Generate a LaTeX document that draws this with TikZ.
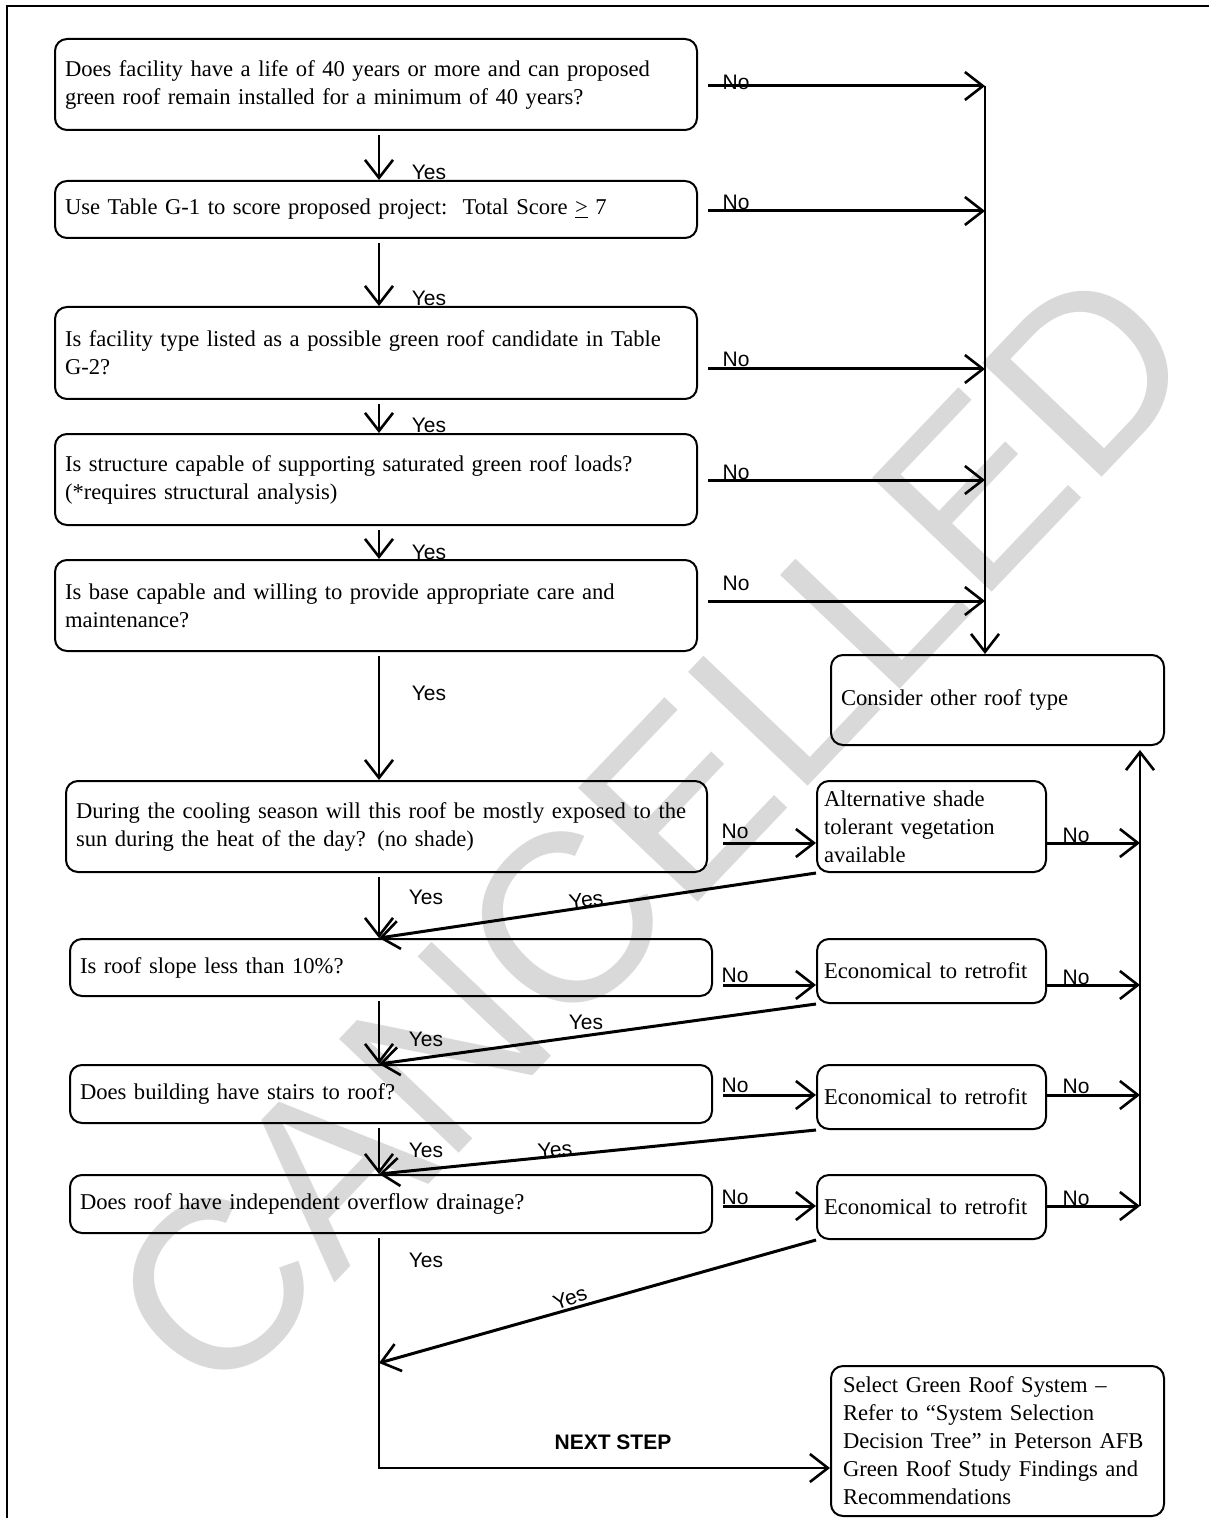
\documentclass[tikz,border=0pt]{standalone}
\usepackage{fontspec}
\setmainfont{Liberation Serif}
\setsansfont{Liberation Sans}
\usetikzlibrary{arrows.meta}
\usetikzlibrary{positioning}
\newcommand{\qfont}{\fontsize{11.3}{14}\selectfont}
\newcommand{\lblfont}{\sffamily\fontsize{10.5}{12}\selectfont}
\tikzset{qbox/.style = {draw, line width=1pt, rounded corners=6pt, anchor=north west, align=left, inner xsep=5pt, inner ysep=0pt, font=\qfont}}
\tikzset{lbl/.style = {font=\lblfont, inner sep=0pt}}
\tikzset{barb/.style = {-{Straight Barb[length=9pt,width=14pt,line width=1.3pt]}}}
\tikzset{yesarr/.style = {barb, line width=1.2pt, shorten <=2pt}}
\tikzset{noarr/.style = {barb, line width=1.5pt}}
\tikzset{wmark/.style = {text=black!15, font=\sffamily\fontsize{120}{120}\selectfont, inner sep=0pt}}

\begin{document}
\begin{tikzpicture}[x=0.5pt, y=-0.5pt]
    \useasboundingbox (0,0) rectangle (1209,1518);
    % watermark underneath everything
    \node[wmark, rotate=46.4] (wm) at (652,830) {CANCELLED};
    \draw[line width=1.3pt] (1209,6) -- (7,6) -- (7,1518);

    % left column
    \node[qbox, minimum width=321pt, minimum height=45.5pt, text width=311pt] (q1) at (54,38)
        {Does facility have a life of 40 years or more and can proposed\\green roof remain installed for a minimum of 40 years?};
    \node[qbox, minimum width=321pt, minimum height=28.5pt, text width=311pt] (q2) at (54,180)
        {Use Table G-1 to score proposed project:\ \ Total Score \underline{>} 7};
    \node[qbox, minimum width=321pt, minimum height=46pt, text width=311pt] (q3) at (54,306)
        {Is facility type listed as a possible green roof candidate in Table\\G-2?};
    \node[qbox, minimum width=321pt, minimum height=45.5pt, text width=311pt] (q4) at (54,433)
        {Is structure capable of supporting saturated green roof loads?\\(*requires structural analysis)};
    \node[qbox, minimum width=321pt, minimum height=45.5pt, text width=311pt] (q5) at (54,559)
        {Is base capable and willing to provide appropriate care and\\maintenance?};
    \node[qbox, minimum width=320.5pt, minimum height=45.5pt, text width=310.5pt] (q6) at (65,780)
        {During the cooling season will this roof be mostly exposed to the\\sun during the heat of the day? (no shade)};
    \node[qbox, minimum width=321pt, minimum height=28.5pt, text width=311pt] (q7) at (69,938)
        {Is roof slope less than 10\%?};
    \node[qbox, minimum width=321pt, minimum height=29pt, text width=311pt] (q8) at (69,1064)
        {Does building have stairs to roof?};
    \node[qbox, minimum width=321pt, minimum height=29pt, text width=311pt] (q9) at (69,1174)
        {Does roof have independent overflow drainage?};

    % right column
    \node[qbox, minimum width=166.5pt, minimum height=45pt, text width=156.5pt] (cons) at (830,654)
        {Consider other roof type};
    \node[qbox, inner xsep=3.5pt, minimum width=114.5pt, minimum height=45.5pt, text width=107.5pt] (alt) at (816,780)
        {Alternative shade\\tolerant vegetation\\available};
    \node[qbox, inner xsep=3.5pt, minimum width=114.5pt, minimum height=32pt, text width=107.5pt] (e1) at (816,938)
        {Economical to retrofit};
    \node[qbox, inner xsep=3.5pt, minimum width=114.5pt, minimum height=32pt, text width=107.5pt] (e2) at (816,1064)
        {Economical to retrofit};
    \node[qbox, inner xsep=3.5pt, minimum width=114.5pt, minimum height=32pt, text width=107.5pt] (e3) at (816,1174)
        {Economical to retrofit};
    \node[qbox, inner xsep=6pt, minimum width=166.5pt, minimum height=75pt, text width=154.5pt] (sel) at (830,1365)
        {Select Green Roof System --\\Refer to ``System Selection\\Decision Tree'' in Peterson AFB\\Green Roof Study Findings and\\Recommendations};

    % helper points
    \coordinate (sp) at (379,0);
    \coordinate (r1) at (985,86);
    \coordinate (r2) at (985,211);
    \coordinate (r3) at (985,369);
    \coordinate (r4) at (985,480);
    \coordinate (r5) at (985,601);
    \coordinate (s1) at (1140,843);
    \coordinate (s2) at (1140,985);
    \coordinate (s3) at (1140,1095);
    \coordinate (s4) at (1140,1206);
    \coordinate (bend) at (379,1468);
    \coordinate (join) at (379,1363);

    % yes path
    \draw[yesarr] (sp |- q1.south) -- (sp |- q2.north);
    \draw[yesarr] (sp |- q2.south) -- (sp |- q3.north);
    \draw[yesarr] (sp |- q3.south) -- (sp |- q4.north);
    \draw[yesarr] (sp |- q4.south) -- (sp |- q5.north);
    \draw[yesarr] (sp |- q5.south) -- (sp |- q6.north);
    \draw[yesarr] (sp |- q6.south) -- (sp |- q7.north);
    \draw[yesarr] (sp |- q7.south) -- (sp |- q8.north);
    \draw[yesarr] (sp |- q8.south) -- (sp |- q9.north);
    \draw[yesarr] (sp |- q9.south) -- (bend) -- (sel.west |- bend);

    \draw[noarr] (alt.south west) -- (sp |- q7.north);
    \draw[noarr] (e1.south west) -- (sp |- q8.north);
    \draw[noarr] (e2.south west) -- (sp |- q9.north);
    \draw[noarr] (e3.south west) -- (join);

    % no path
    \draw[noarr, shorten <=5pt] (q1.east |- r1) -- (r1);
    \draw[noarr, shorten <=5pt] (q2.east |- r2) -- (r2);
    \draw[noarr, shorten <=5pt] (q3.east |- r3) -- (r3);
    \draw[noarr, shorten <=5pt] (q4.east |- r4) -- (r4);
    \draw[noarr, shorten <=5pt] (q5.east |- r5) -- (r5);
    \draw[noarr, line width=1.3pt] (r1) -- (r1 |- cons.north);

    \draw[noarr, shorten <=7.5pt] (q6.east |- s1) -- (alt.west |- s1);
    \draw[noarr, shorten <=5pt] (q7.east |- s2) -- (e1.west |- s2);
    \draw[noarr, shorten <=5pt] (q8.east |- s3) -- (e2.west |- s3);
    \draw[noarr, shorten <=5pt] (q9.east |- s4) -- (e3.west |- s4);
    \draw[noarr] (alt.east |- s1) -- (s1);
    \draw[noarr] (e1.east |- s2) -- (s2);
    \draw[noarr] (e2.east |- s3) -- (s3);
    \draw[noarr] (e3.east |- s4) -- (s4);
    \draw[noarr, line width=1.3pt, shorten >=2pt] (s4) -- (s4 |- cons.south);

    % labels
    \node[lbl] (y1) at (429,172) {Yes};
    \node[lbl] (y2) at (429,298) {Yes};
    \node[lbl] (y3) at (429,425) {Yes};
    \node[lbl] (y4) at (429,552) {Yes};
    \node[lbl] (y5) at (429,693) {Yes};
    \node[lbl] (y6) at (426,897) {Yes};
    \node[lbl] (y7) at (426,1039) {Yes};
    \node[lbl] (y8) at (426,1150) {Yes};
    \node[lbl] (y9) at (426,1260) {Yes};
    \node[lbl, rotate=8] (d1) at (586,900) {Yes};
    \node[lbl] (d2) at (586,1022) {Yes};
    \node[lbl, rotate=6] (d3) at (555,1150) {Yes};
    \node[lbl, rotate=20] (d4) at (570,1298) {Yes};

    \node[lbl] (n1) at (736,82) {No};
    \node[lbl] (n2) at (736,202) {No};
    \node[lbl] (n3) at (736,359) {No};
    \node[lbl] (n4) at (736,472) {No};
    \node[lbl] (n5) at (736,583) {No};
    \node[lbl] (n6) at (735,831) {No};
    \node[lbl] (n7) at (735,975) {No};
    \node[lbl] (n8) at (735,1085) {No};
    \node[lbl] (n9) at (735,1197) {No};
    \node[lbl] (m1) at (1076,835) {No};
    \node[lbl] (m2) at (1076,977) {No};
    \node[lbl] (m3) at (1076,1086) {No};
    \node[lbl] (m4) at (1076,1198) {No};

    \node[lbl, font=\lblfont\bfseries] (nxt) at (613,1442) {NEXT STEP};
\end{tikzpicture}
\end{document}
